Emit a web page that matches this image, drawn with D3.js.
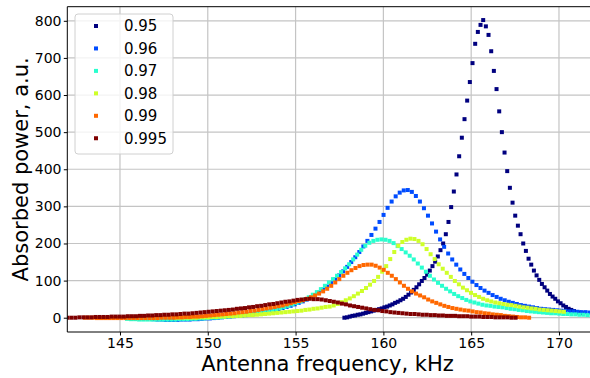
<!DOCTYPE html>
<html>
<head>
<meta charset="utf-8">
<script src="https://cdn.jsdelivr.net/npm/d3@7"></script>
<style>
  body { margin: 0; background: #fff; }
  svg { display: block; font-family: "DejaVu Sans", sans-serif; }
</style>
</head>
<body>
<script>
// legend labels and jet colours, one per series
const seriesLabels = ["0.95", "0.96", "0.97", "0.98", "0.99", "0.995"];
const seriesColors = ["#00007f", "#004cff", "#29ffce", "#ceff29", "#ff6800", "#7f0000"];

// frequency grid of each series (kHz): first point and spacing
const freqStart = [157.78, 146.9, 145.4, 148.2, 143.0, 142.0];
const freqStep = [0.152, 0.23, 0.23, 0.23, 0.23, 0.23];

// absorbed power, a.u.
const power095 = [
  0, 1, 3, 5, 6, 8, 9, 11, 13, 15, 17, 19, 21, 23, 25, 28, 30, 33, 36, 40,
  43, 47, 51, 56, 62, 68, 75, 82, 90, 99, 107, 116, 127, 139, 151, 165, 182, 200, 225, 258,
  298, 340, 386, 435, 485, 535, 585, 635, 686, 738, 770, 789, 802, 785, 762, 718, 665, 616, 556, 500,
  445, 395, 350, 310, 275, 248, 225, 200, 180, 159, 143, 127, 114, 102, 91, 82, 73, 64, 57, 51,
  44, 39, 33, 29, 24, 21, 18, 15, 14, 12
];
const power096 = [
  -4, -5, -5, -6, -6, -6, -6, -5, -5, -5, -4, -4, -3, -2, -2, -1, 0, 1, 2, 3,
  4, 5, 6, 7, 9, 10, 12, 14, 16, 18, 20, 23, 26, 29, 32, 36, 40, 44, 49, 55,
  61, 68, 76, 84, 93, 103, 114, 125, 137, 150, 163, 177, 192, 207, 223, 240, 258, 277, 296, 313,
  327, 337, 343, 344, 339, 328, 313, 295, 275, 254, 232, 211, 191, 173, 157, 143, 130, 118, 107, 97,
  88, 80, 73, 67, 61, 56, 51, 47, 43, 40, 37, 34, 32, 30, 28, 26, 24, 23, 22, 21,
  20, 19, 18, 17, 17, 16, 15, 15, 14, 14
];
const power097 = [
  -3, -4, -4, -5, -5, -5, -5, -5, -5, -5, -5, -5, -5, -4, -4, -4, -3, -3, -2, -2,
  -1, 0, 0, 1, 2, 3, 4, 5, 6, 7, 9, 10, 12, 14, 16, 18, 20, 23, 26, 29,
  32, 36, 40, 44, 49, 55, 62, 69, 77, 86, 95, 104, 113, 123, 133, 144, 157, 170, 183, 194,
  202, 207, 210, 211, 210, 207, 201, 193, 185, 176, 167, 157, 146, 135, 124, 113, 103, 94, 86, 78,
  71, 64, 58, 53, 48, 44, 41, 38, 35, 33, 32, 30, 29, 28, 26, 24, 23, 21, 20, 18,
  17, 16, 15, 14, 13, 12, 12, 11, 10, 10, 9, 9, 8, 8, 7, 6
];
const power098 = [
  0, 0, 0, 0, 0, 0, 1, 1, 1, 2, 2, 3, 3, 4, 4, 5, 5, 6, 7, 7,
  8, 9, 10, 11, 12, 13, 14, 15, 16, 17, 18, 19, 21, 22, 24, 25, 27, 29, 30, 33,
  37, 42, 47, 52, 58, 65, 72, 80, 89, 99, 110, 124, 139, 158, 177, 194, 204, 210, 213, 212,
  207, 198, 185, 171, 158, 144, 132, 121, 110, 99, 90, 81, 74, 67, 61, 56, 51, 47, 44, 41,
  39, 37, 35, 34, 32, 30, 28, 27, 25, 24, 22, 21, 20, 19, 18, 17, 16
];
const power099 = [
  0, 0, 0, -1, -1, -1, -1, -1, -1, -1, -1, -1, -1, -1, -1, -1, -1, -1, -1, 0,
  0, 0, 0, 1, 1, 2, 2, 3, 3, 4, 5, 6, 7, 8, 9, 10, 11, 12, 14, 15,
  16, 18, 19, 21, 23, 25, 27, 29, 31, 33, 36, 39, 42, 45, 47, 51, 55, 60, 65, 71,
  78, 86, 95, 104, 113, 121, 128, 134, 139, 142, 143, 143, 140, 135, 129, 121, 113, 104, 95, 86,
  78, 71, 65, 60, 55, 49, 44, 40, 36, 32, 29, 26, 24, 22, 20, 19, 17, 15, 14, 12,
  11, 9, 8, 7, 5, 4, 3, 2, 1, 1, 0
];
const power0995 = [
  0, 0, 0, 1, 1, 1, 1, 2, 2, 2, 2, 3, 3, 3, 3, 4, 4, 4, 5, 5,
  6, 6, 7, 7, 8, 8, 9, 9, 10, 11, 11, 12, 13, 14, 15, 16, 17, 18, 19, 20,
  21, 22, 24, 25, 26, 28, 29, 31, 32, 34, 36, 37, 39, 41, 43, 44, 46, 48, 49, 50,
  51, 50, 50, 49, 47, 45, 43, 41, 38, 36, 33, 31, 29, 27, 25, 23, 21, 20, 18, 17,
  15, 14, 13, 12, 11, 10, 10, 9, 8, 8, 7, 7, 6, 6, 5, 5, 5, 4, 4, 4,
  3, 3, 3, 2, 2, 2, 1, 1, 1, 1, 0, 0
];
const powers = [power095, power096, power097, power098, power099, power0995];

const xTicks = [145, 150, 155, 160, 165, 170];
const yTicks = [0, 100, 200, 300, 400, 500, 600, 700, 800];

const WIDTH = 590;
const HEIGHT = 378;
const PLOT_LEFT = 67.3;
const PLOT_TOP = 6.7;
const PLOT_BOTTOM = 332;

const series = powers.map((values, s) => ({
  label: seriesLabels[s],
  color: seriesColors[s],
  points: values.map((v, i) => ({ f: freqStart[s] + freqStep[s] * i, v }))
}));

const svg = d3.select("body").append("svg")
  .attr("width", WIDTH)
  .attr("height", HEIGHT);

svg.append("rect").attr("width", WIDTH).attr("height", HEIGHT).attr("fill", "#fff");

// right edge of the axes lies past the window
const xScale = d3.scaleLinear().domain([142, 172.5]).range([PLOT_LEFT, PLOT_LEFT + 30.5 * 17.56]);
const yScale = d3.scaleLinear().domain([-38.5, 838]).range([PLOT_BOTTOM, PLOT_TOP]);

const plotRight = xScale.range()[1];

svg.append("clipPath").attr("id", "plot-clip")
  .append("rect")
  .attr("x", PLOT_LEFT)
  .attr("y", PLOT_TOP)
  .attr("width", plotRight - PLOT_LEFT)
  .attr("height", PLOT_BOTTOM - PLOT_TOP);

// grid
const grid = svg.append("g").attr("stroke", "#c4c4c4").attr("stroke-width", 1.2);
grid.selectAll(".gx").data(xTicks).join("line")
  .attr("x1", d => xScale(d)).attr("x2", d => xScale(d))
  .attr("y1", PLOT_TOP).attr("y2", PLOT_BOTTOM);
grid.selectAll(".gy").data(yTicks).join("line")
  .attr("x1", PLOT_LEFT).attr("x2", plotRight)
  .attr("y1", d => yScale(d)).attr("y2", d => yScale(d));

// series markers, 0.95 first so 0.995 ends on top
const marks = svg.append("g").attr("clip-path", "url(#plot-clip)");
series.forEach(s => {
  marks.append("g")
    .attr("fill", s.color)
    .selectAll("rect")
    .data(s.points)
    .join("rect")
    .attr("x", d => xScale(d.f) - 2)
    .attr("y", d => yScale(d.v) - 2)
    .attr("width", 4)
    .attr("height", 4);
});

// axes
const xAxis = d3.axisBottom(xScale).tickValues(xTicks).tickSize(3.5).tickPadding(2.5);
const yAxis = d3.axisLeft(yScale).tickValues(yTicks).tickSize(3.5).tickPadding(2.3);

svg.append("g")
  .attr("transform", `translate(0, ${PLOT_BOTTOM})`)
  .call(xAxis)
  .call(g => g.select(".domain").remove())
  .call(g => g.selectAll("text").attr("font-size", 14).attr("fill", "#000").attr("font-family", "DejaVu Sans"))
  .call(g => g.selectAll("line").attr("stroke", "#000"));

svg.append("g")
  .attr("transform", `translate(${PLOT_LEFT}, 0)`)
  .call(yAxis)
  .call(g => g.select(".domain").remove())
  .call(g => g.selectAll("text").attr("font-size", 14).attr("fill", "#000").attr("font-family", "DejaVu Sans"))
  .call(g => g.selectAll("line").attr("stroke", "#000"));

// spines
const spines = svg.append("g").attr("stroke", "#000").attr("stroke-width", 1);
spines.append("line").attr("x1", PLOT_LEFT).attr("x2", PLOT_LEFT).attr("y1", PLOT_TOP).attr("y2", PLOT_BOTTOM);
spines.append("line").attr("x1", PLOT_LEFT).attr("x2", plotRight).attr("y1", PLOT_TOP).attr("y2", PLOT_TOP);
spines.append("line").attr("x1", PLOT_LEFT).attr("x2", plotRight).attr("y1", PLOT_BOTTOM).attr("y2", PLOT_BOTTOM);

// axis titles
svg.append("text")
  .attr("x", 327.5)
  .attr("y", 371)
  .attr("text-anchor", "middle")
  .attr("font-size", 21)
  .text("Antenna frequency, kHz");

svg.append("text")
  .attr("transform", `translate(28, ${(PLOT_TOP + PLOT_BOTTOM) / 2}) rotate(-90)`)
  .attr("text-anchor", "middle")
  .attr("font-size", 21)
  .text("Absorbed power, a.u.");

// legend
const legend = svg.append("g");
legend.append("rect")
  .attr("x", 75).attr("y", 14)
  .attr("width", 98).attr("height", 140)
  .attr("rx", 3)
  .attr("fill", "#fff").attr("fill-opacity", 0.8)
  .attr("stroke", "#d0d0d0");

const rows = legend.selectAll(".row").data(series).join("g")
  .attr("transform", (d, i) => `translate(0, ${26 + i * 22.45})`);
rows.append("rect")
  .attr("x", 94).attr("y", -2)
  .attr("width", 4).attr("height", 4)
  .attr("fill", d => d.color);
rows.append("text")
  .attr("x", 124)
  .attr("dy", "0.36em")
  .attr("font-size", 15)
  .text(d => d.label);
</script>
</body>
</html>
